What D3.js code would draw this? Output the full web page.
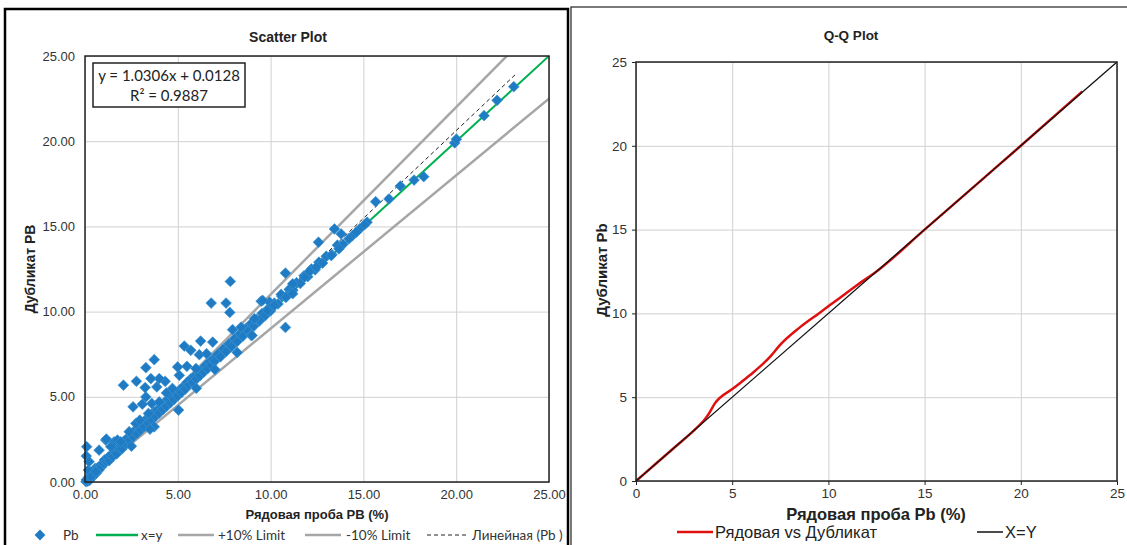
<!DOCTYPE html>
<html>
<head>
<meta charset="utf-8">
<script src="https://cdn.jsdelivr.net/npm/d3@7"></script>
<style>
  body { margin: 0; background: #fff; }
  svg { display: block; font-family: "Liberation Sans", Arial, sans-serif; }
</style>
</head>
<body>
<svg id="chart" width="1127" height="545"></svg>
<script>
// Рядовая проба (x) / Дубликат (y) - Pb
var rowPb = [
  0.05,0.10,0.15,0.20,0.25,0.30,0.35,0.40,0.45,0.50,0.55,0.60,0.70,0.75,0.85,0.90,1.00,1.05,1.15,1.25,
  1.30,1.40,1.50,1.60,1.70,1.80,1.90,2.00,2.10,2.20,2.30,2.40,2.50,2.60,2.70,2.80,2.90,3.00,3.10,3.20,
  3.30,3.40,3.50,3.60,3.70,3.80,3.90,4.00,4.10,4.20,4.30,4.40,4.50,4.60,4.70,4.80,4.90,5.00,5.10,5.20,
  5.30,5.40,5.50,5.60,5.70,5.80,5.90,6.00,6.10,6.20,6.30,6.40,6.50,6.60,6.70,6.80,6.90,7.00,7.15,7.30,
  7.45,7.60,7.75,7.90,8.05,8.20,8.35,8.50,8.65,8.80,8.95,9.10,9.25,9.40,9.55,9.70,9.85,10.00,10.20,10.40,
  10.60,10.80,11.00,11.20,11.40,11.60,11.80,12.00,12.20,12.40,12.60,12.80,13.00,13.30,13.60,13.90,14.40,14.80,15.20,
  0.07,0.18,0.07,0.31,0.58,0.09,0.22,1.12,1.57,0.76,1.15,1.39,1.75,1.93,2.38,2.74,2.95,3.42,3.73,2.59,
  3.09,3.60,4.00,3.28,4.39,3.87,3.24,4.32,4.00,3.55,2.77,2.07,5.08,3.28,3.73,4.99,5.49,5.98,5.35,5.70,
  6.23,6.88,6.16,6.55,7.83,6.80,7.60,7.80,7.95,8.41,8.95,9.40,9.49,9.94,9.84,10.10,5.04,4.71,
  2.50,3.50,6.00,7.00,8.20,9.00,10.80,
  9.13,9.57,10.21,10.57,10.84,11.19,11.19,10.80,11.83,12.10,12.46,12.58,13.27,13.68,13.44,13.80,14.22,14.62,15.06,
  15.66,16.38,16.99,17.73,18.25,19.92,20.01,21.50,22.20,23.10
];
var dupPb = [
  0.02,0.15,0.05,0.30,0.10,0.45,0.25,0.55,0.35,0.60,0.80,0.50,0.85,0.70,1.00,0.90,1.10,1.30,1.20,1.45,
  1.25,1.60,1.50,1.80,1.65,2.00,2.15,1.95,2.40,2.25,2.60,2.45,2.80,2.65,3.05,2.85,3.20,3.05,3.40,3.25,
  3.70,3.45,3.85,3.65,4.10,3.85,4.25,4.05,4.40,4.25,4.70,4.45,4.85,4.65,5.00,4.85,5.25,5.05,5.40,5.25,
  5.60,5.45,5.85,5.70,6.05,5.85,6.20,6.05,6.45,6.25,6.60,6.45,6.85,6.65,7.05,6.85,7.20,7.10,7.50,7.35,
  7.80,7.65,8.10,7.95,8.40,8.25,8.70,8.55,9.00,8.85,9.30,9.15,9.55,9.45,9.90,9.75,10.15,10.05,10.50,10.45,
  10.90,10.85,11.30,11.25,11.70,11.65,12.10,12.05,12.50,12.45,12.90,12.85,13.25,13.35,13.90,13.95,14.45,14.85,15.25,
  1.52,0.70,0.12,0.31,0.60,2.07,1.19,2.46,2.36,1.87,2.52,2.07,2.46,2.36,2.95,3.44,3.63,4.02,3.24,4.41,
  4.57,4.61,4.70,4.99,5.23,5.58,5.54,5.91,6.07,6.07,5.91,5.68,6.26,6.71,7.18,6.75,6.79,6.66,7.98,7.73,
  8.27,8.21,7.47,7.53,11.77,10.50,10.50,9.95,8.94,9.09,8.61,9.49,10.61,10.56,10.07,10.36,4.22,5.49,
  2.10,3.10,5.50,6.60,7.60,8.60,9.07,
  9.58,10.66,10.36,11.01,10.85,11.63,11.05,12.26,12.02,12.37,12.61,14.07,13.29,13.68,14.85,14.56,14.27,14.66,15.10,
  16.45,16.61,17.37,17.72,17.92,19.90,20.12,21.50,22.40,23.20
];

// trendline from Excel
var trendSlope = 1.0306, trendIntercept = 0.0128, trendR2 = 0.9887;

// Q-Q curve (sorted quantiles)
var qqRow = [0, 1, 2, 3, 3.59, 3.75, 4.1, 5.06, 5.93, 7.0, 7.48, 8.5, 9.5, 10.5, 11.5, 12.5, 15, 18, 20, 23.2];
var qqDup = [0, 1, 2, 3, 3.70, 3.95, 4.63, 5.53, 6.32, 7.45, 8.11, 9.15, 10.0, 10.85, 11.7, 12.5, 15, 18, 20, 23.25];

var scatterTicks = [0, 5, 10, 15, 20, 25];
var qqTicks = [0, 5, 10, 15, 20, 25];

var svg = d3.select("#chart");

// ---------- panel frames ----------
svg.append("rect").attr("x", 5).attr("y", 9).attr("width", 563).attr("height", 545)
  .attr("fill", "none").attr("stroke", "#000").attr("stroke-width", 2.5);
svg.append("rect").attr("x", 571).attr("y", 7).attr("width", 570).attr("height", 545)
  .attr("fill", "none").attr("stroke", "#222").attr("stroke-width", 1.2);

// ---------- left: scatter ----------
var x1 = d3.scaleLinear().domain([0, 25]).range([85, 549]);
var y1 = d3.scaleLinear().domain([0, 25]).range([482, 56]);

var g1 = svg.append("g");
g1.append("g").attr("transform", "translate(0,482)")
  .call(d3.axisBottom(x1).tickValues(scatterTicks).tickSize(-(482 - 56)).tickFormat(""))
  .call(function(g){ g.select(".domain").remove(); g.selectAll("line").attr("stroke", "#d0d0d0"); });
g1.append("g").attr("transform", "translate(85,0)")
  .call(d3.axisLeft(y1).tickValues(scatterTicks).tickSize(-(549 - 85)).tickFormat(""))
  .call(function(g){ g.select(".domain").remove(); g.selectAll("line").attr("stroke", "#d0d0d0"); });

// tick labels
g1.append("g").attr("transform", "translate(0,482)")
  .call(d3.axisBottom(x1).tickValues(scatterTicks).tickSize(0).tickPadding(8).tickFormat(d3.format(".2f")))
  .call(function(g){ g.select(".domain").remove();
    g.selectAll("text").attr("font-size", 13).attr("fill", "#333").attr("font-family", "Liberation Sans"); });
g1.append("g").attr("transform", "translate(85,0)")
  .call(d3.axisLeft(y1).tickValues(scatterTicks).tickSize(0).tickPadding(10).tickFormat(d3.format(".2f")))
  .call(function(g){ g.select(".domain").remove();
    g.selectAll("text").attr("font-size", 13).attr("fill", "#333").attr("font-family", "Liberation Sans"); });

// limit lines
var clip1 = svg.append("clipPath").attr("id", "clip1").append("rect")
  .attr("x", 85).attr("y", 56).attr("width", 549 - 85).attr("height", 482 - 56);
var lines1 = g1.append("g").attr("clip-path", "url(#clip1)");
var ln = d3.line().x(function(d){ return x1(d[0]); }).y(function(d){ return y1(d[1]); });
lines1.append("path").attr("d", ln([[0, 0], [25, 27.5]]))
  .attr("stroke", "#a6a6a6").attr("stroke-width", 2.5).attr("fill", "none");
lines1.append("path").attr("d", ln([[0, 0], [25, 22.5]]))
  .attr("stroke", "#a6a6a6").attr("stroke-width", 2.5).attr("fill", "none");

// points
var pts = rowPb.map(function(v, i){ return [v, dupPb[i]]; });
var diamond = d3.symbol().type(d3.symbolSquare).size(58);
g1.append("g").selectAll("path").data(pts).enter().append("path")
  .attr("d", diamond)
  .attr("transform", function(d){ return "translate(" + x1(d[0]) + "," + y1(d[1]) + ") rotate(45)"; })
  .attr("fill", "#1f7cc4").attr("stroke", "#3d93d3").attr("stroke-width", 0.6);

lines1.append("path").attr("d", ln([[0, 0], [25, 25]]))
  .attr("stroke", "#00b050").attr("stroke-width", 2).attr("fill", "none");
lines1.append("path").attr("d", ln([[0, trendIntercept], [23.2, trendSlope * 23.2 + trendIntercept]]))
  .attr("stroke", "#222").attr("stroke-width", 1).attr("stroke-dasharray", "4,3").attr("fill", "none");

// plot frame
g1.append("rect").attr("x", 85).attr("y", 56).attr("width", 549 - 85).attr("height", 482 - 56)
  .attr("fill", "none").attr("stroke", "#222").attr("stroke-width", 1.5);

// equation box
g1.append("rect").attr("x", 93).attr("y", 63).attr("width", 152).attr("height", 44)
  .attr("fill", "#fff").attr("stroke", "#222").attr("stroke-width", 1.5);
g1.append("text").attr("x", 169).attr("y", 81).attr("text-anchor", "middle")
  .attr("font-family", "Lato, 'Open Sans', sans-serif").attr("font-size", 15).attr("fill", "#222")
  .text("y = " + trendSlope + "x + " + trendIntercept);
g1.append("text").attr("x", 169).attr("y", 101).attr("text-anchor", "middle")
  .attr("font-family", "Lato, 'Open Sans', sans-serif").attr("font-size", 15).attr("fill", "#222")
  .text("R² = " + trendR2);

g1.append("text").attr("x", 288).attr("y", 42).attr("text-anchor", "middle")
  .attr("font-weight", "bold").attr("font-size", 14).attr("fill", "#222").text("Scatter Plot");
g1.append("text").attr("x", 317).attr("y", 519).attr("text-anchor", "middle")
  .attr("font-weight", "bold").attr("font-size", 13).attr("fill", "#222").text("Рядовая проба PB (%)");
g1.append("text").attr("transform", "translate(35,269) rotate(-90)").attr("text-anchor", "middle")
  .attr("font-weight", "bold").attr("font-size", 14).attr("fill", "#222").text("Дубликат PB");

// legend
var leg1 = g1.append("g").attr("font-family", "Lato, 'Open Sans', sans-serif").attr("font-size", 13.5).attr("fill", "#333");
leg1.append("path").attr("d", diamond).attr("transform", "translate(40,535) rotate(45)").attr("fill", "#1f7cc4");
leg1.append("text").attr("x", 63).attr("y", 540).text("Pb");
[
  {x1: 96, x2: 138, tx: 141, label: "x=y", color: "#00b050", dash: null},
  {x1: 178, x2: 214, tx: 218, label: "+10% Limit", color: "#a6a6a6", dash: null},
  {x1: 305, x2: 341, tx: 346, label: "-10% Limit", color: "#a6a6a6", dash: null},
  {x1: 427, x2: 468, tx: 472, label: "Линейная (Pb )", color: "#222", dash: "4,3"}
].forEach(function(d){
  leg1.append("line").attr("x1", d.x1).attr("x2", d.x2).attr("y1", 535).attr("y2", 535)
    .attr("stroke", d.color).attr("stroke-width", d.dash ? 1 : 2.5).attr("stroke-dasharray", d.dash);
  leg1.append("text").attr("x", d.tx).attr("y", 540).text(d.label);
});

// ---------- right: Q-Q ----------
var x2 = d3.scaleLinear().domain([0, 25]).range([636, 1117]);
var y2 = d3.scaleLinear().domain([0, 25]).range([481, 62]);
var g2 = svg.append("g");

g2.append("g").attr("transform", "translate(0,481)")
  .call(d3.axisBottom(x2).tickValues(qqTicks).tickSize(-(481 - 62)).tickFormat(""))
  .call(function(g){ g.select(".domain").remove(); g.selectAll("line").attr("stroke", "#d0d0d0"); });
g2.append("g").attr("transform", "translate(636,0)")
  .call(d3.axisLeft(y2).tickValues(qqTicks).tickSize(-(1117 - 636)).tickFormat(""))
  .call(function(g){ g.select(".domain").remove(); g.selectAll("line").attr("stroke", "#d0d0d0"); });

g2.append("g").attr("transform", "translate(0,481)")
  .call(d3.axisBottom(x2).tickValues(qqTicks).tickSize(4).tickPadding(3))
  .call(function(g){ g.select(".domain").remove(); g.selectAll("line").attr("stroke", "#222");
    g.selectAll("text").attr("font-size", 13.5).attr("fill", "#333"); });
g2.append("g").attr("transform", "translate(636,0)")
  .call(d3.axisLeft(y2).tickValues(qqTicks).tickSize(4).tickPadding(5))
  .call(function(g){ g.select(".domain").remove(); g.selectAll("line").attr("stroke", "#222");
    g.selectAll("text").attr("font-size", 13.5).attr("fill", "#333"); });

var ln2 = d3.line().curve(d3.curveMonotoneX).x(function(d){ return x2(d[0]); }).y(function(d){ return y2(d[1]); });
g2.append("path").attr("d", ln2(qqRow.map(function(v, i){ return [v, qqDup[i]]; })))
  .attr("stroke", "#e01010").attr("stroke-width", 2.5).attr("fill", "none");
g2.append("path").attr("d", ln2([[0, 0], [25, 25]]))
  .attr("stroke", "#111").attr("stroke-width", 1.3).attr("fill", "none");

g2.append("rect").attr("x", 636).attr("y", 62).attr("width", 1117 - 636).attr("height", 481 - 62)
  .attr("fill", "none").attr("stroke", "#222").attr("stroke-width", 1.5);

g2.append("text").attr("x", 851).attr("y", 40).attr("text-anchor", "middle")
  .attr("font-weight", "bold").attr("font-size", 13.5).attr("fill", "#222").text("Q-Q Plot");
g2.append("text").attr("x", 876).attr("y", 520).attr("text-anchor", "middle")
  .attr("font-weight", "bold").attr("font-size", 16.5).attr("fill", "#222").text("Рядовая проба Pb (%)");
g2.append("text").attr("transform", "translate(607,270) rotate(-90)").attr("text-anchor", "middle")
  .attr("font-weight", "bold").attr("font-size", 15).attr("fill", "#222").text("Дубликат Pb");

var leg2 = g2.append("g").attr("font-size", 16.5).attr("fill", "#222");
leg2.append("line").attr("x1", 677).attr("x2", 713).attr("y1", 532).attr("y2", 532)
  .attr("stroke", "#e01010").attr("stroke-width", 2.5);
leg2.append("text").attr("x", 715).attr("y", 538).text("Рядовая vs Дубликат");
leg2.append("line").attr("x1", 977).attr("x2", 1003).attr("y1", 532).attr("y2", 532)
  .attr("stroke", "#111").attr("stroke-width", 1.5);
leg2.append("text").attr("x", 1005).attr("y", 538).text("X=Y");
</script>
</body>
</html>
